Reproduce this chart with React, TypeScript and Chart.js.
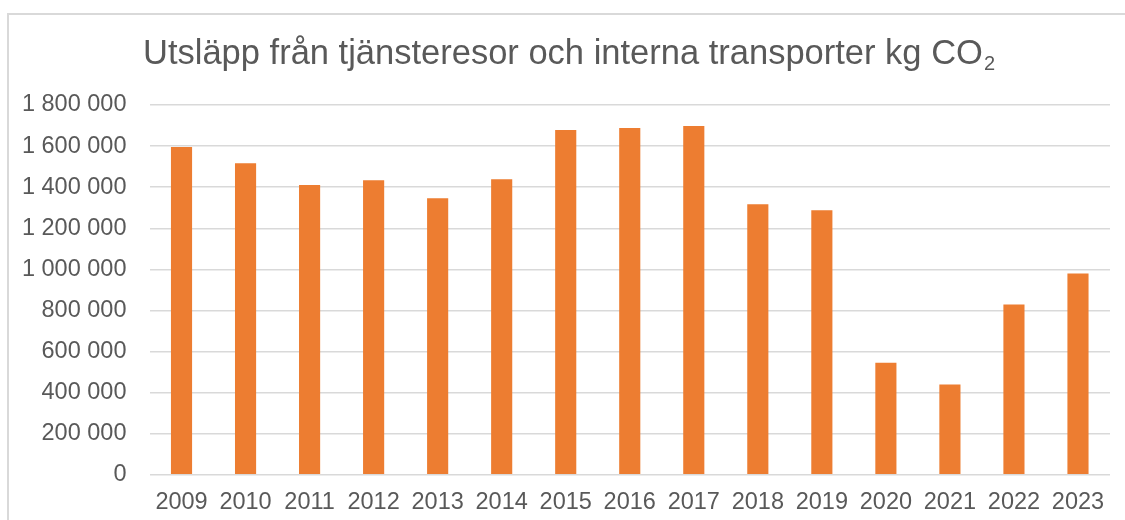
import React, { useEffect, useRef } from "react";
import { Chart, registerables } from "chart.js";

Chart.register(...registerables);

const years = ["2009", "2010", "2011", "2012", "2013", "2014", "2015", "2016", "2017", "2018", "2019", "2020", "2021", "2022", "2023"];
const emissions = [1595000, 1517000, 1410000, 1434000, 1346000, 1439000, 1678000, 1688000, 1698000, 1317000, 1288000, 546000, 439000, 829000, 980000];
const titleMain = "Utsläpp från tjänsteresor och interna transporter kg CO";
const titleSub = "2";

const FONT = '"Liberation Sans", Arial, sans-serif';
const TEXT = "#595959";
const GRID = "#D9D9D9";
const BAR = "#ED7D31";

const titlePlugin = {
  id: "subTitle",
  afterDraw(chart: any) {
    const ctx = chart.ctx;
    ctx.save();
    ctx.fillStyle = TEXT;
    ctx.textBaseline = "alphabetic";
    ctx.textAlign = "left";
    ctx.font = `34.5px ${FONT}`;
    const w1 = ctx.measureText(titleMain).width;
    ctx.font = `20px ${FONT}`;
    const w2 = ctx.measureText(titleSub).width;
    const cx = 569;
    const gap = 1;
    const x0 = cx - (w1 + w2 + gap) / 2;
    ctx.font = `34.5px ${FONT}`;
    ctx.fillText(titleMain, x0, 64);
    ctx.font = `20px ${FONT}`;
    ctx.fillText(titleSub, x0 + w1 + gap, 70);
    ctx.restore();
  },
};

export default function App() {
  const ref = useRef<HTMLCanvasElement>(null);
  useEffect(() => {
    document.body.style.margin = "0";
    const chart = new Chart(ref.current!, {
      type: "bar",
      data: {
        labels: years,
        datasets: [
          {
            data: emissions,
            backgroundColor: BAR,
            borderWidth: 0,
            categoryPercentage: 1,
            barPercentage: 0.33,
          },
        ],
      },
      options: {
        animation: false,
        responsive: false,
        maintainAspectRatio: false,
        layout: { padding: { top: 105, right: 15, bottom: 9, left: 0 } },
        plugins: {
          legend: { display: false },
          title: { display: false },
          tooltip: { enabled: false },
        },
        scales: {
          x: {
            grid: { display: false, drawTicks: false },
            border: { display: false },
            ticks: {
              color: TEXT,
              font: { family: FONT, size: 23.5 },
              padding: 14,
              maxRotation: 0,
              autoSkip: false,
            },
          },
          y: {
            min: 0,
            max: 1800000,
            afterFit(scale: any) {
              scale.width = 149.5;
            },
            grid: { color: GRID, lineWidth: 1.5, drawTicks: false },
            border: { display: false },
            ticks: {
              stepSize: 200000,
              color: TEXT,
              padding: 23,
              font: { family: FONT, size: 23.5 },
              callback: (v: any) => Number(v).toString().replace(/\B(?=(\d{3})+(?!\d))/g, " "),
            },
          },
        },
      },
      plugins: [titlePlugin],
    });
    return () => chart.destroy();
  }, []);
  return (
    <div style={{ position: "relative", width: 1125, height: 520, overflow: "hidden" }}>
      <div
        style={{
          position: "absolute",
          left: 7,
          top: 13,
          width: 1200,
          height: 600,
          borderLeft: `2px solid ${GRID}`,
          borderTop: `2px solid ${GRID}`,
        }}
      />
      <canvas ref={ref} width={1125} height={540} style={{ position: "absolute", left: 0, top: 0 }} />
    </div>
  );
}
